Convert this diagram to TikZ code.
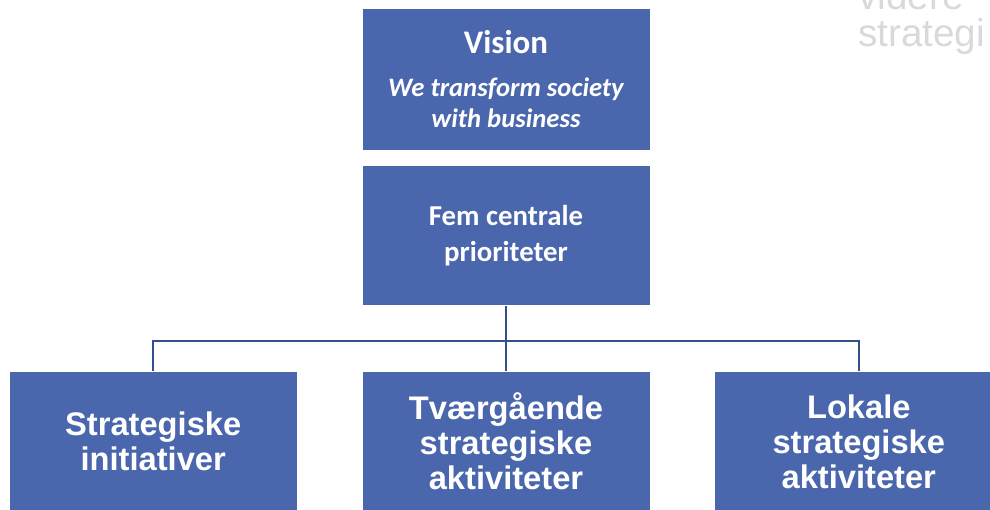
\documentclass[tikz,border=0pt]{standalone}
\usepackage{fontspec}
\usepackage{tikz}
\usetikzlibrary{positioning,calc}

\newfontfamily\calib{Carlito}
\newfontfamily\arialf{Liberation Sans}

\definecolor{boxblue}{HTML}{4A66AC}
\definecolor{linkblue}{HTML}{34508C}
\definecolor{ghostgray}{HTML}{D9D9D9}

\newcommand\visfont{\itshape\fontsize{20}{21.75}\selectfont}

\tikzset{
	blok/.style={draw=white,line width=0.6pt,fill=boxblue,text=white,align=center,
		minimum width=216pt,inner sep=0pt},
	topblok/.style={blok,font=\calib\bfseries},
	bundblok/.style={blok,minimum height=105pt,
		font=\arialf\bfseries\fontsize{24.5}{26.2}\selectfont},
	link/.style={draw=linkblue,line width=1.6pt}
}

\begin{document}
\begin{tikzpicture}
		\useasboundingbox (0,0) rectangle (742.5pt,-382.5pt);
		\clip (0,0) rectangle (742.5pt,-382.5pt);
		\begin{scope}
			% gray text behind at the corner
			\node(vid) [anchor=base west,inner sep=0,text=ghostgray,font=\arialf\fontsize{29}{33}\selectfont]
				at (643.5pt,-7.5pt) {videre};
			\node(strat) [anchor=base west,inner sep=0,text=ghostgray,font=\arialf\fontsize{29}{33}\selectfont]
				at (643.5pt,-35.2pt) {strategi};
			% top two boxes
			\node(vision) [topblok,minimum height=106.5pt] at (379.5pt,-59.25pt)
				{\fontsize{24.7}{26}\selectfont Vision\\[17.25pt]
				 \visfont We transform society\\[4.5pt]\visfont with business};
			\node(prio) [topblok,minimum height=105pt,below=11.25pt of vision,
				font=\calib\bfseries\fontsize{21.6}{26.5}\selectfont] {Fem centrale\\prioriteter};
			% bottom row
			\node(tvaer) [bundblok,below=48.75pt of prio] {Tværgående\\strategiske\\aktiviteter};
			\node(init) [bundblok,left=48pt of tvaer] {Strategiske\\initiativer};
			\node(lokal) [bundblok,right=48pt of tvaer] {Lokale\\strategiske\\aktiviteter};
			\coordinate(split) at ($(prio.south)+(0,-26.25pt)$);
			\path[link]
				(prio.south) -- (tvaer.north)
				(init.north) |- (split) -| (lokal.north);
		\end{scope}
	\end{tikzpicture}
\end{document}
